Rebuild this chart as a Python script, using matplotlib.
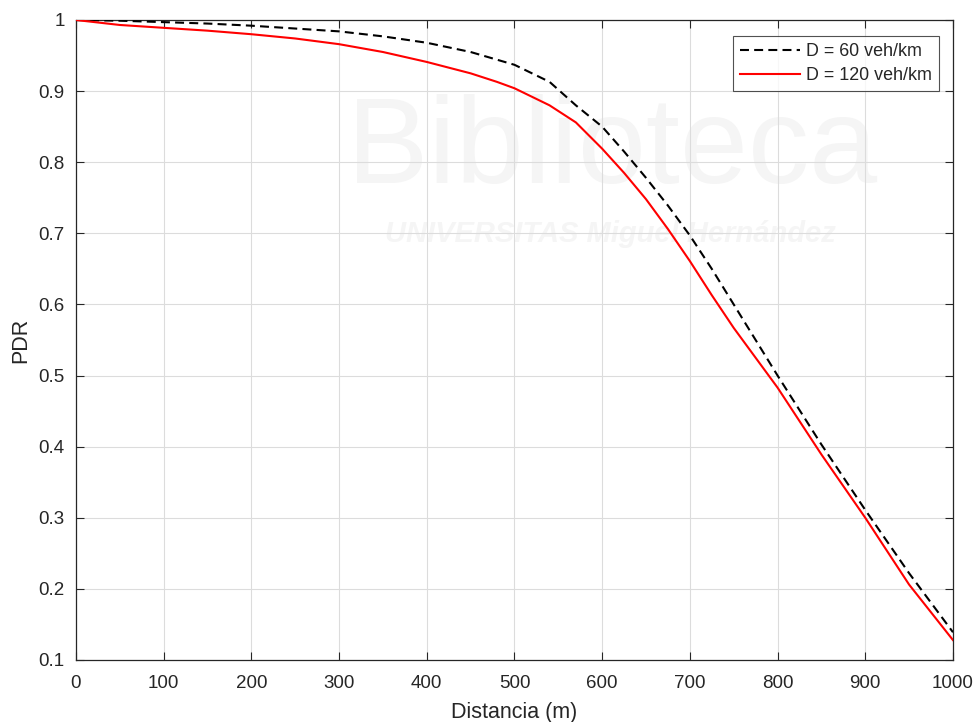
import matplotlib.pyplot as plt
import numpy as np

plt.rcParams['font.family'] = ['Liberation Sans', 'DejaVu Sans']

# Distancia (m) y PDR
dist_60 = [0, 50, 100, 150, 200, 250, 300, 350, 400, 450, 500, 540, 570, 600,
           625, 650, 675, 700, 725, 750, 800, 850, 900, 950, 1000]
pdr_60 = [1.0, 0.999, 0.997, 0.995, 0.992, 0.988, 0.984, 0.977, 0.968, 0.955, 0.937,
          0.913, 0.88, 0.85, 0.815, 0.778, 0.739, 0.697, 0.65, 0.60, 0.50, 0.403,
          0.311, 0.222, 0.139]

dist_120 = [0, 50, 100, 150, 200, 250, 300, 350, 400, 450, 480, 500, 540, 570, 600,
            625, 650, 675, 700, 725, 750, 800, 850, 900, 950, 1000]
pdr_120 = [1.0, 0.993, 0.989, 0.985, 0.98, 0.974, 0.966, 0.955, 0.941, 0.925, 0.913,
           0.904, 0.88, 0.856, 0.819, 0.785, 0.748, 0.706, 0.661, 0.613, 0.567, 0.483,
           0.389, 0.30, 0.206, 0.128]

eje_color = '#262626'

fig = plt.figure(figsize=(9.79, 7.22), dpi=100)
ax = fig.add_axes([0.0776, 0.0859, 0.8958, 0.8864])

# marca de agua tenue
ax.text(0.611, 0.795, 'Biblioteca', transform=ax.transAxes, fontsize=88,
        color='#f5f5f5', ha='center', va='center', zorder=0)
ax.text(0.61, 0.665, 'UNIVERSITAS Miguel Hernández', transform=ax.transAxes,
        fontsize=21, color='#f5f5f5', ha='center', va='center', zorder=0,
        style='italic', fontweight='bold')

ax.plot(dist_60, pdr_60, color='black', linestyle=(0, (4.3, 2.5)), linewidth=1.5,
        label='D = 60 veh/km', zorder=3)
ax.plot(dist_120, pdr_120, color='#ff0000', linestyle='-', linewidth=1.5,
        label='D = 120 veh/km', zorder=3)

ax.set_xlim(0, 1000)
ax.set_ylim(0.1, 1)
ax.set_xticks(np.arange(0, 1001, 100))
ax.set_yticks(np.arange(0.1, 1.01, 0.1))
ax.set_yticklabels(['0.1', '0.2', '0.3', '0.4', '0.5', '0.6', '0.7', '0.8', '0.9', '1'])
ax.grid(True, color='#dcdcdc', linewidth=0.8, zorder=1)
ax.set_axisbelow(True)
ax.tick_params(direction='in', length=6, width=0.8, colors=eje_color,
               labelsize=13.5, top=True, right=True)
ax.tick_params(axis='x', pad=11)
ax.tick_params(axis='y', pad=8)
for s in ax.spines.values():
    s.set_color(eje_color)
    s.set_linewidth(0.9)

ax.set_xlabel('Distancia (m)', fontsize=15.5, color=eje_color, labelpad=7)
ax.set_ylabel('PDR', fontsize=15.5, color=eje_color, labelpad=5)

leg = ax.legend(loc='upper right', bbox_to_anchor=(0.984, 0.975), fontsize=12.9,
                frameon=True, fancybox=False, edgecolor=eje_color,
                handlelength=3.35, handletextpad=0.33, borderpad=0.4,
                labelspacing=0.4, borderaxespad=0)
leg.get_frame().set_linewidth(0.8)
for t in leg.get_texts():
    t.set_color(eje_color)

fig.savefig('out.png', dpi=100)
